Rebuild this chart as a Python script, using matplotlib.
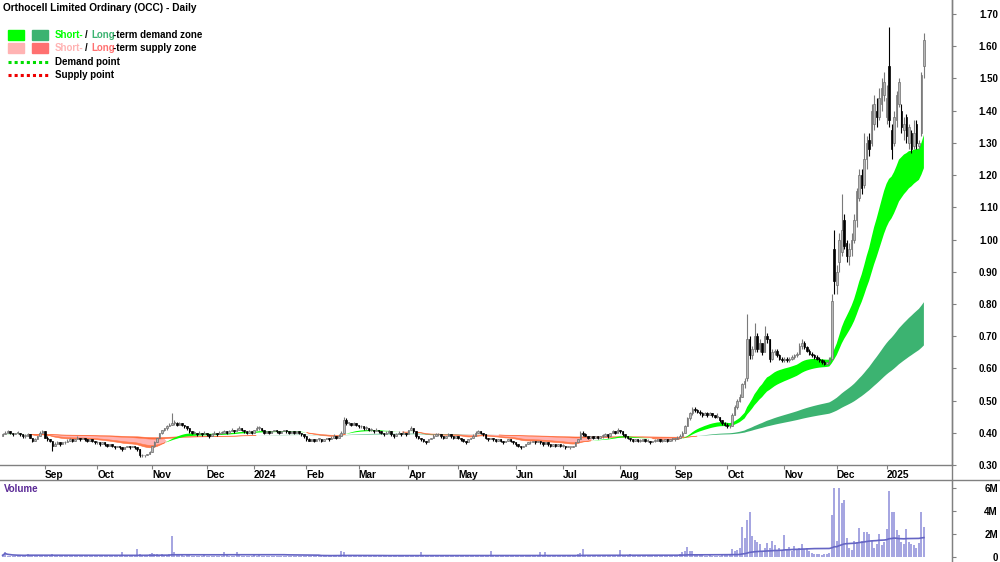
import numpy as np
import pandas as pd
import matplotlib
matplotlib.use("Agg")
import matplotlib.pyplot as plt
from matplotlib.lines import Line2D
from matplotlib.patches import Rectangle

TITLE = "Orthocell Limited Ordinary (OCC) - Daily"
START, END = "2023-08-09", "2025-01-23"
ASX_HOLIDAYS = ["2023-12-25", "2023-12-26", "2024-01-01", "2024-01-26", "2024-03-29",
                "2024-04-01", "2024-04-25", "2024-06-10", "2024-12-25", "2024-12-26",
                "2025-01-01"]

# ---- daily bars (open, high, low, close) in cents, one list per month ----
aug23 = [(39,40,39,39.5),(39.5,40.5,39.5,40),(40,41,40,40.5),(40.5,40.5,39.5,40),(40,40,39,39.5),(39.5,40,39.5,40),(40,40.5,39.5,40),(40,40,39,39.5),(39.5,39.5,38.5,39),(39,39.5,38.5,39),(39,40,39,39.5),(39.5,39.5,38.5,38.5),(38.5,38.5,37,37.5),(37.5,38.5,37.5,38),(38,39,38,39),(39,40.5,39,40),(40,41,40,40.5)]
sep23 = [(40.5,40.5,38.5,38.5),(38.5,39,37.5,38),(38,38,37,37.5),(37.5,37.5,34.5,36),(36,37,36,36.5),(36.5,37.5,36.5,37),(37,37,36,36.5),(36.5,37,36.5,37),(37,37.5,36.5,37),(37,38,37,37.5),(37.5,38.5,37.5,38),(38,38,37,37.5),(37.5,38,37.5,38),(38,39,38,38.5),(38.5,38.5,37.5,38),(38,38.5,38,38.5),(38.5,38.5,37.5,38),(38,38,37,37.5),(37.5,38,37.5,38),(38,38,37,37.5),(37.5,37.5,36.5,37)]
oct23 = [(37,37.5,36.5,37),(37,37,36,36.5),(36.5,37,36.5,37),(37,37,36,36.5),(36.5,36.5,35.5,36),(36,36.5,36,36.5),(36.5,36.5,35.5,36),(36,36,35,35.5),(35.5,36,35.5,36),(36,36,35,35.5),(35.5,35.5,34.5,35),(35,35.5,35,35.5),(35.5,36,35.5,36),(36,36,35,35.5),(35.5,36,35.5,36),(36,36,35,35.5),(35.5,35.5,34.5,35),(35,35,32.5,33),(33,33.5,32.5,33),(33,33,32.5,33),(33,33.5,33,33.5),(33.5,34.5,33.5,34)]
nov23 = [(34,36,34,36),(36,37.5,35.5,37),(37,38.5,37,38.5),(38.5,40,38.5,40),(40,41,39.5,41),(41,41.5,40.5,41.5),(41.5,42.5,41,42),(42,43,42,42.5),(42.5,46,42.5,43),(43,44,42.5,43),(43,43.5,42,42.5),(42.5,43.5,42.5,43),(43,43,42,42.5),(42.5,42.5,41.5,42),(42,42,41,41.5),(41.5,41.5,40,40.5),(40.5,40.5,39.5,40),(40,40.5,39.5,40),(40,40,39,39.5),(39.5,40.5,39.5,40),(40,40,39,39.5),(39.5,40.5,39.5,40)]
dec23 = [(40,40,39,39.5),(39.5,39.5,38.5,39),(39,40,39,39.5),(39.5,40.5,39.5,40),(40,40,39,39.5),(39.5,40.5,39.5,40),(40,40.5,39.5,40),(40,41,40,40.5),(40.5,40.5,39.5,40),(40,41,40,40.5),(40.5,41.5,40.5,41),(41,41,40,40.5),(40.5,41.5,40.5,41),(41,42,41,41.5),(41.5,41.5,40.5,41),(41,41,40,40.5),(40.5,40.5,39.5,40),(40,41,40,40.5),(40.5,40.5,39.5,40)]
jan24 = [(40,41,40,41),(41,42,41,41.5),(41.5,42,41,41.5),(41.5,41.5,40.5,41),(41,41,39.5,40),(40,40.5,40,40.5),(40.5,40.5,39.5,40),(40,40.5,40,40.5),(40.5,41,40.5,41),(41,41,40,40.5),(40.5,40.5,39.5,40),(40,40.5,40,40.5),(40.5,41,40.5,41),(41,41,40,40.5),(40.5,40.5,39.5,40),(40,40.5,40,40.5),(40.5,40.5,39.5,40),(40,40.5,40,40.5),(40.5,40.5,39.5,40),(40,40,39,39.5),(39.5,39.5,38.5,39)]
feb24 = [(39,39,37.5,38),(38,38.5,37.5,37.5),(37.5,38,37.5,38),(38,38,37,37.5),(37.5,38,37.5,38),(38,38.5,37.5,38),(38,38,37,37.5),(37.5,38,37.5,38),(38,38.5,38,38.5),(38.5,38.5,37.5,38),(38,39,38,38.5),(38.5,39.5,38.5,39),(39,39,38,38.5),(38.5,39.5,38.5,39),(39,40.5,39,40),(40,45,40,44),(44,44.5,42.5,43),(43,43.5,42.5,43),(43,43,42,42.5),(42.5,43.5,42.5,43),(43,43,42,42.5)]
mar24 = [(42.5,42.5,41.5,42),(42,42.5,41.5,42),(42,42,41,41.5),(41.5,42,41,41.5),(41.5,41.5,40.5,41),(41,41.5,40.5,41),(41,41,40,40.5),(40.5,41.5,40.5,41),(41,41,40,40.5),(40.5,40.5,39.5,40),(40,40,39,39.5),(39.5,40.5,39.5,40),(40,41,40,40.5),(40.5,40.5,39,39.5),(39.5,39.5,38.5,39),(39,40,39,39.5),(39.5,40.5,39.5,40),(40,40,39,39.5),(39.5,40.5,39.5,40),(40,40,39,39.5)]
apr24 = [(39.5,41,39.5,41),(41,42,41,41.5),(41.5,41.5,40,40.5),(40.5,40.5,38.5,39),(39,39,38,38.5),(38.5,38.5,37.5,38),(38,38,37,37.5),(37.5,37.5,36.5,37),(37,38,37,38),(38,38.5,38,38.5),(38.5,39.5,38.5,39),(39,40,39,39.5),(39.5,40,39,39.5),(39.5,39.5,38.5,39),(39,39,38,38.5),(38.5,39,38.5,39),(39,40,39,39.5),(39.5,39.5,38.5,39),(39,39,38,38.5),(38.5,39,38.5,39)]
may24 = [(39,39,38,38.5),(38.5,38.5,37.5,38),(38,38,37,37.5),(37.5,37.5,36.5,37),(37,38,37,38),(38,38.5,38,38.5),(38.5,39.5,38.5,39),(39,40.5,39,40),(40,41,40,40.5),(40.5,40.5,39.5,40),(40,40,39,39.5),(39.5,39.5,38,38.5),(38.5,38.5,37.5,38),(38,38.5,38,38.5),(38.5,38.5,37.5,38),(38,38,37,37.5),(37.5,38,37.5,38),(38,38,37,37.5),(37.5,37.5,36.5,37),(37,37.5,37,37.5),(37.5,38,37.5,38),(38,38,37,37.5),(37.5,37.5,36.5,37)]
jun24 = [(37,37,36,36.5),(36.5,36.5,35.5,36),(36,36,35,35.5),(35.5,36,35.5,36),(36,36.5,36,36.5),(36.5,37,36.5,37),(37,37.5,36.5,37),(37,37.5,37,37.5),(37.5,37.5,36.5,37),(37,37.5,37,37.5),(37.5,37.5,36.5,37),(37,37,36,36.5),(36.5,37,36.5,37),(37,37,36,36.5),(36.5,36.5,35.5,36),(36,36.5,36,36.5),(36.5,36.5,35.5,36),(36,36.5,36,36.5),(36.5,36.5,35.5,36)]
jul24 = [(36,36.5,35.5,36),(36,36,35,35.5),(35.5,36,35.5,35.5),(35.5,35.5,35,35.5),(35.5,36,35.5,36),(36,37,36,37),(37,38,37,38),(38,40.5,38,40),(40,40.5,39,39.5),(39.5,40,39,39),(39,39,38,38.5),(38.5,39,38.5,39),(39,39,38,38.5),(38.5,39,38.5,39),(39,39,38,38.5),(38.5,39,38.5,39),(39,39.5,38.5,39),(39,40,39,39.5),(39.5,39.5,38.5,39),(39,40,39,40),(40,41,40,40.5),(40.5,40.5,39.5,40),(40,41.5,40,41)]
aug24 = [(41,41,40,40.5),(40.5,40.5,39,39.5),(39.5,39.5,38.5,39),(39,39,38,38.5),(38.5,38.5,37.5,38),(38,38,37,37.5),(37.5,38,37.5,38),(38,38,37,37.5),(37.5,38,37,37.5),(37.5,38,37.5,38),(38,38,37,37.5),(37.5,38,37,37.5),(37.5,37.5,36.5,37),(37,37.5,37,37.5),(37.5,38,37,37.5),(37.5,38,37.5,38),(38,38,37,37.5),(37.5,38,37,37.5),(37.5,38,37.5,38),(38,38,37,37.5),(37.5,38,37.5,38),(38,38.5,37.5,38)]
sep24 = [(38,38.5,37.5,38),(38,39,38,38.5),(38.5,39.5,38.5,39),(39,40.5,39,40),(40,42.5,40,42),(42,45,42,44.5),(44.5,46.5,44,46),(46,48,45.5,47.5),(47.5,48,46.5,47),(47,47.5,46,46.5),(46.5,47,45.5,46),(46,46.5,45,45.5),(45.5,46.5,45.5,46),(46,46.5,45,45.5),(45.5,46.5,45.5,46),(46,46,45,45.5),(45.5,45.5,44.5,45),(45,46,44.5,45),(45,45,43.5,44),(44,44,42.5,43),(43,43.5,42,42.5)]
oct24 = [(42.5,43,41.5,42),(42,42.5,41.5,42),(42,46,42,45.5),(45.5,48.5,45.5,48),(48,50.5,47.5,50),(50,52,49.5,51),(51,55.5,51,55),(55,57,54,56),(57,77,56,69),(69,70,63,64),(64,67,63,66),(66,74,65,70),(70,71,65,66),(66,69,65,68),(68,68,64,65),(65,73,65,70),(70,71,68,69),(69,69,62,63),(63,66,62.5,65),(65,66,64,65.5),(65.5,66,63.5,64),(64,64.5,62.5,63),(63,63.5,62,62.5)]
nov24 = [(62.5,63.5,62,63),(63,63.5,62,62.5),(62.5,63.5,62,63),(63,64,62.5,63.5),(63.5,64.5,63,64),(64,65,63.5,64.5),(64.5,68,64.5,67),(67,69,66,68),(68,68.5,66,66.5),(66.5,67,65,65.5),(65.5,66,64,64.5),(64.5,65,63.5,64),(64,64.5,63,63.5),(63.5,64,62.5,63),(63,63.5,62,62.5),(62.5,63,61.5,62),(62,62.5,61,61.5),(61.5,62,61,62),(62,63.5,61.5,63),(63,83,62.5,81),(97,103,83,87)]
dec24 = [(86,92,83,90),(93,102,90,100),(96,114,95,103),(106,108,97,98),(99,100,93,95),(95,99,92,97),(97,102,95,100),(100,108,99,106),(106,116,104,115),(113,122,112,120),(120,122,114,116),(117,133,116,125),(125,132,122,130),(131,133,126,128),(130,142,129,140),(136,145,134,142),(140,144,135,138),(138,147,137,144),(142,150,140,147),(145,152,143,149)]
jan25 = [(138,148,136,144),(154,166,135,137),(134,136,125,128),(130,140,129,138),(137,146,135,145),(142,150,141,149),(140,142,133,135),(134,138,131,136),(138,139,130,132),(130,136,128,135),(133,134,127,128),(129,137,128,133),(136,137,128,130),(129,131,128,130),(133,152,132,151),(154,164,150,162)]

# ---- daily volume in thousands of shares, one list per month ----
vol_aug23 = [150,450,100,120,80,90,110,100,90,120,300,150,200,130,100,150,120]
vol_sep23 = [200,150,120,250,150,100,120,90,110,130,100,90,120,150,100,90,110,130,100,90,120]
vol_oct23 = [110,100,120,90,100,130,90,100,110,90,400,120,100,90,110,120,700,250,180,150,200,300]
vol_nov23 = [350,300,250,200,250,180,200,250,1800,400,250,200,150,120,150,130,120,100,110,100,120,150]
vol_dec23 = [120,100,110,90,100,120,110,450,150,120,100,110,400,130,110,100,90,80,90]
vol_jan24 = [150,120,130,110,100,120,110,100,90,110,100,120,110,100,90,110,100,90,110,100,120]
vol_feb24 = [120,110,100,90,110,100,120,110,100,90,110,120,100,130,550,400,200,150,120,110,100]
vol_mar24 = [120,110,100,90,110,100,120,110,100,90,110,100,120,110,100,90,110,100,120,110]
vol_apr24 = [150,130,110,100,120,400,130,120,110,100,120,110,100,90,110,100,120,110,100,90]
vol_may24 = [110,100,120,110,100,90,120,130,150,110,100,90,110,500,120,100,110,90,100,110,120,100,90]
vol_jun24 = [100,110,90,100,110,100,120,110,100,90,400,120,450,110,100,90,110,100,90]
vol_jul24 = [100,90,110,100,120,200,250,350,700,200,150,120,110,100,120,110,100,90,110,100,120,150,200]
vol_aug24 = [600,200,150,120,300,130,110,100,120,110,100,90,110,100,120,110,100,90,110,100,120,130]
vol_sep24 = [150,200,250,400,500,900,500,500,300,250,200,150,120,110,150,120,110,100,120,150,180]
vol_oct24 = [300,250,700,500,600,800,2600,1600,3200,3900,1800,1500,1300,1100,500,800,1200,800,1400,1000,600,800,500]
vol_nov24 = [1900,600,900,500,950,700,800,1100,700,750,500,350,250,300,250,200,300,250,350,3600,6000]
vol_dec24 = [1400,6000,4700,4900,1600,800,600,1400,1300,2500,1400,2200,2200,2000,1400,800,1100,2000,1000,1300]
vol_jan25 = [2400,5700,3900,3900,2300,1900,1300,1100,2400,1300,1100,1000,800,1200,3900,2600]

price_ticks = [0.30, 0.40, 0.50, 0.60, 0.70, 0.80, 0.90, 1.00, 1.10, 1.20, 1.30, 1.40, 1.50, 1.60, 1.70]
volume_ticks = [0, 2, 4, 6]
volume_tick_labels = ["0", "2M", "4M", "6M"]

# ---- styles ----
SHORT_SPANS = (25, 40)
LONG_SPANS = (150, 250)
VOL_MA = 60
C_SHORT_DEM, C_LONG_DEM = "#00ff00", "#3cb371"
C_SHORT_SUP, C_LONG_SUP = "#ffb3b3", "#ff7070"
C_SUP_CORE = "#ff7a4a"
C_LONG_SUP_CHART = "#ff6a3a"
AXIS_GRAY = "#808080"
FONT = "Liberation Sans"
LEG_FS = 7
plt.rcParams["font.family"] = [FONT, "DejaVu Sans"]

W, H = 1000, 562
fig = plt.figure(figsize=(W / 100, H / 100), dpi=100)
fig.patch.set_facecolor("white")

def fx(px):
    return px / W

def fy(py):
    return 1 - py / H

PX_PER_DOLLAR = 322.1
X0, DX = 2.6, 2.49
AX_RIGHT = 952

ax = fig.add_axes([0, fy(465), fx(AX_RIGHT), 465 / H])
ax.set_ylim(0.30, 0.30 + 465 / PX_PER_DOLLAR)
ax.set_xlim(-X0 / DX, (AX_RIGHT - X0) / DX)

months = [aug23, sep23, oct23, nov23, dec23, jan24, feb24, mar24, apr24, may24, jun24,
          jul24, aug24, sep24, oct24, nov24, dec24, jan25]
vmonths = [vol_aug23, vol_sep23, vol_oct23, vol_nov23, vol_dec23, vol_jan24, vol_feb24,
           vol_mar24, vol_apr24, vol_may24, vol_jun24, vol_jul24, vol_aug24, vol_sep24,
           vol_oct24, vol_nov24, vol_dec24, vol_jan25]
bars = np.array([b for m in months for b in m], dtype=float) / 100.0
vols = np.array([v for m in vmonths for v in m], dtype=float) / 1000.0

dates = pd.bdate_range(START, END)
dates = dates[~dates.isin(pd.to_datetime(ASX_HOLIDAYS))]
n = min(len(dates), len(bars), len(vols))
dates, bars, vols = dates[:n], bars[:n], vols[:n]
o, h, l, c = bars[:, 0], bars[:, 1], bars[:, 2], bars[:, 3]
h = np.maximum.reduce([h, o, c])
l = np.minimum.reduce([l, o, c])
x = np.arange(n)

cs = pd.Series(c)
def ema(span):
    return cs.ewm(span=span, adjust=False).mean().values

lf, ls = ema(LONG_SPANS[0]), ema(LONG_SPANS[1])
sf, ss = ema(SHORT_SPANS[0]), ema(SHORT_SPANS[1])
short_dem = sf >= ss
sup_top = np.maximum(ss, lf)
ax.fill_between(x, sf, ss, where=short_dem, interpolate=True, color=C_SHORT_DEM, lw=0, zorder=2)
ax.fill_between(x, sf, sup_top, where=~short_dem, interpolate=True, color=C_SHORT_SUP,
                lw=0, zorder=1.5)
ax.fill_between(x, sf, ss, where=~short_dem, interpolate=True, color=C_SUP_CORE,
                lw=0.4, edgecolor=C_SUP_CORE, zorder=1.6)
ax.fill_between(x, lf, ls, where=lf >= ls, interpolate=True, color=C_LONG_DEM, lw=0, zorder=1.8)
ax.fill_between(x, lf, ls, where=lf < ls, interpolate=True, color=C_LONG_SUP_CHART, lw=0.3,
                edgecolor=C_LONG_SUP_CHART, zorder=1.8)

up = c >= o
wick_col = np.where(up, "#7a7a7a", "#000000")
ax.vlines(x, l, h, colors=wick_col, linewidth=0.8, zorder=3)
body_h = np.maximum(np.abs(c - o), 0.0025)
ax.bar(x[up], body_h[up], bottom=np.minimum(o, c)[up], width=0.62,
       color="#b8b8b8", edgecolor="#6e6e6e", linewidth=0.5, zorder=4)
ax.bar(x[~up], body_h[~up], bottom=np.minimum(o, c)[~up], width=0.62,
       color="#000000", edgecolor="#000000", linewidth=0.5, zorder=4)

for s in ("left", "top"):
    ax.spines[s].set_visible(False)
for s in ("bottom", "right"):
    ax.spines[s].set_color(AXIS_GRAY)
    ax.spines[s].set_linewidth(1)
ax.yaxis.tick_right()
ax.set_yticks(price_ticks)
ax.set_yticklabels([f"{t:.2f}" for t in price_ticks])
ax.tick_params(axis="y", direction="out", length=3, color=AXIS_GRAY, pad=30,
               labelsize=7, width=0.8)
for lbl in ax.get_yticklabels():
    lbl.set_horizontalalignment("right")
    lbl.set_fontweight("bold")

mstart = [i for i in range(1, n) if dates[i].month != dates[i - 1].month]
mlabels = [str(dates[i].year) if dates[i].month == 1 else dates[i].strftime("%b") for i in mstart]
ax.set_xticks(mstart)
ax.set_xticklabels(mlabels)
ax.tick_params(axis="x", direction="out", length=3, color=AXIS_GRAY, pad=0.5,
               labelsize=7.3, width=0.8)
for lbl in ax.get_xticklabels():
    lbl.set_horizontalalignment("left")
    lbl.set_fontweight("bold")

vax = fig.add_axes([0, 0, fx(AX_RIGHT), (H - 480) / H])
vpx = 11.57
vax.set_ylim(-(H - 557) / vpx, (557 - 480) / vpx)
vax.set_xlim(ax.get_xlim())
vax.vlines(x, 0, vols, colors="#8c8cd8", linewidth=1.1, zorder=2)
vma = pd.Series(vols).rolling(VOL_MA, min_periods=1).mean().values
vax.plot(x, vma, color="#6565c4", lw=1.2, zorder=3)
for s in ("left", "top", "bottom"):
    vax.spines[s].set_visible(False)
vax.spines["right"].set_color(AXIS_GRAY)
vax.set_xticks([])
vax.yaxis.tick_right()
vax.set_yticks(volume_ticks)
vax.set_yticklabels(volume_tick_labels)
vax.tick_params(axis="y", direction="out", length=3, color=AXIS_GRAY, pad=30,
                labelsize=7, width=0.8)
for lbl in vax.get_yticklabels():
    lbl.set_horizontalalignment("right")
    lbl.set_fontweight("bold")
vax.text(fx(4) / fx(AX_RIGHT), 1 - 9 / (H - 480), "Volume", transform=vax.transAxes,
         color="#5b2a96", fontsize=7, fontweight="bold", va="center", ha="left")

fig.add_artist(Line2D([0, 1], [fy(480), fy(480)], color=AXIS_GRAY, lw=1))
fig.add_artist(Line2D([fx(AX_RIGHT), fx(AX_RIGHT)], [0, 1], color=AXIS_GRAY, lw=1))

fig.text(fx(3), fy(8), TITLE, fontsize=7.3, fontweight="bold", va="center", ha="left")

renderer = fig.canvas.get_renderer()

def ink_width(s):
    t = fig.text(0, 0, s, fontsize=LEG_FS, fontweight="bold")
    w = t.get_window_extent(renderer).width
    t.remove()
    return w

def advance(s):
    if not s:
        return 0.0
    return ink_width("H" + s + "H") - ink_width("HH")

def swatch(px, py, color):
    fig.add_artist(Rectangle((fx(px), fy(py + 5)), fx(16), 10 / H, color=color,
                             transform=fig.transFigure))

def rich_line(px, py, parts):
    prefix = ""
    for s, col in parts:
        lead = len(s) - len(s.lstrip())
        xoff = advance(prefix + s[:lead])
        if prefix:
            xoff -= 1.0
            if not s[0].isspace() and not prefix[-1].isspace():
                xoff -= 1.8
        fig.text(fx(px + xoff), fy(py), s.strip(), color=col, fontsize=LEG_FS,
                 fontweight="bold", va="center", ha="left")
        prefix += s

swatch(8, 35, C_SHORT_DEM)
swatch(32, 35, C_LONG_DEM)
swatch(8, 48, C_SHORT_SUP)
swatch(32, 48, C_LONG_SUP)
rich_line(55, 35, [("Short-", C_SHORT_DEM), (" / ", "black"), ("Long", C_LONG_DEM),
                   ("-term demand zone", "black")])
rich_line(55, 48, [("Short-", C_SHORT_SUP), (" / ", "black"), ("Long", C_LONG_SUP),
                   ("-term supply zone", "black")])
fig.add_artist(Line2D([fx(8), fx(48)], [fy(62), fy(62)], color="#00dd00", lw=2.2,
                      linestyle=(0, (1, 1))))
fig.add_artist(Line2D([fx(8), fx(48)], [fy(75), fy(75)], color="#ee0000", lw=2.2,
                      linestyle=(0, (1, 1))))
fig.text(fx(55), fy(62), "Demand point", fontsize=LEG_FS, fontweight="bold", va="center")
fig.text(fx(55), fy(75), "Supply point", fontsize=LEG_FS, fontweight="bold", va="center")

fig.savefig("out.png", dpi=100, facecolor="white")
